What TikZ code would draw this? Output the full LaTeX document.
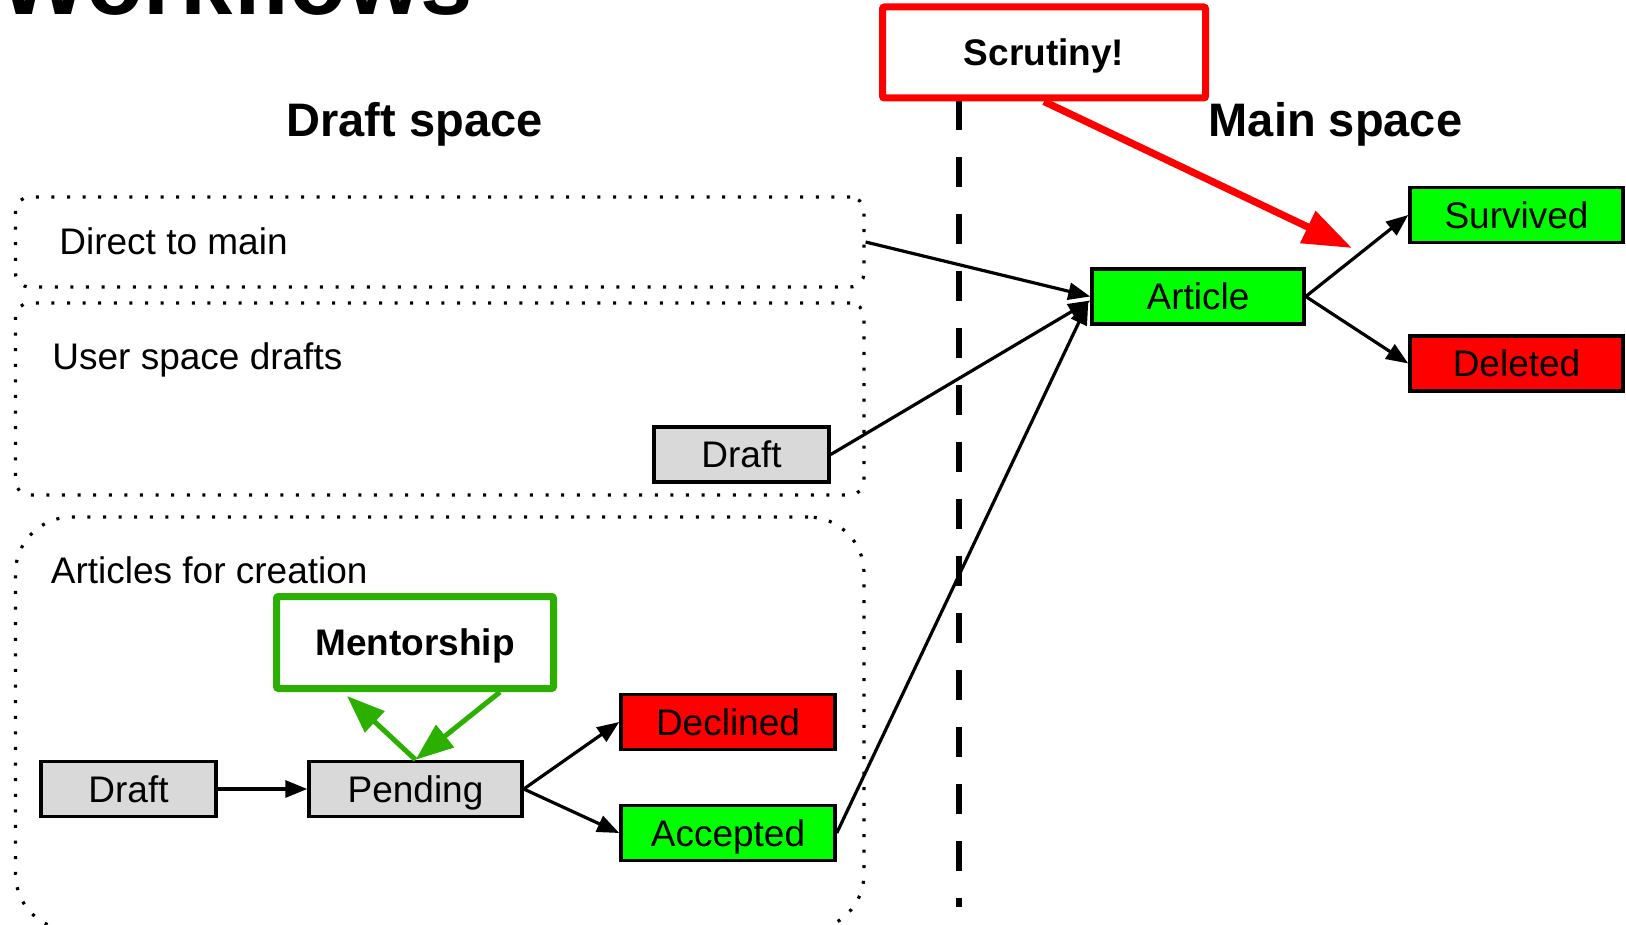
\documentclass[tikz,border=0pt]{standalone}
\usepackage{fontspec}
\setmainfont{Liberation Sans}
\usetikzlibrary{arrows.meta}
\definecolor{okgreen}{HTML}{00FF00}
\definecolor{badred}{HTML}{FF0000}
\definecolor{boxgray}{HTML}{D9D9D9}
\definecolor{mentorgreen}{HTML}{2BB000}
\newcommand\lblfont{\fontsize{18.5}{22}\selectfont}
\newcommand\headfont{\fontsize{23.5}{28}\selectfont\bfseries}
\newcommand\titlefont{\fontsize{47}{56}\selectfont\bfseries}
\tikzset{
  box/.style={draw, line width=1.75pt, inner sep=0pt, minimum height=27.5pt,
    text height=13.25pt, text depth=0pt, font=\lblfont},
  graybox/.style={box, fill=boxgray},
  greenbox/.style={box, fill=okgreen},
  redbox/.style={box, fill=badred},
  callout/.style={draw, line width=3.5pt, fill=white, inner sep=0pt, rounded corners=1pt,
    text height=13.25pt, text depth=0pt, font=\lblfont\bfseries},
  region/.style={draw, line width=1.6pt, dash pattern=on 1.5pt off 6.3pt,
    rounded corners=7pt, minimum width=424.25pt, inner sep=0pt},
  regionlabel/.style={anchor=base west, inner sep=0pt, font=\lblfont},
  heading/.style={anchor=base, inner sep=0pt, font=\headfont},
  flow/.style={line width=1.6pt, -{Triangle[length=11pt,width=8.5pt]}},
  mentorflow/.style={draw=mentorgreen, line width=2.5pt, -{Triangle[length=19pt,width=14pt]}, color=mentorgreen},
  scrutflow/.style={draw=badred, line width=3.6pt, -{Triangle[length=24.5pt,width=17pt]}, color=badred},
  separator/.style={line width=3pt, dash pattern=on 15pt off 13.5pt}
}
\begin{document}
\begin{tikzpicture}[x=0.5pt,y=-0.5pt]
\useasboundingbox (0,0) rectangle (1626,925);

% title
\node (title) [anchor=base east, inner sep=0pt, font=\titlefont] at (473,15) {Workflows};

% headings
\node (drafthead) [heading] at (414.6,137) {Draft space};
\node (mainhead) [heading] at (1335.5,137) {Main space};

% separator
\draw[separator] (959,100) -- (959,907);

% regions
\node (direct) [region, minimum height=45pt] at (439.75,242) {};
\node (userspace) [region, minimum height=96pt] at (439.75,399) {};
\node (afc) [region, minimum height=206.5pt, rounded corners=28pt] at (439.75,723.5) {};

\node (directlbl) [regionlabel] at (59,255) {Direct to main};
\node (userlbl) [regionlabel] at (52,369) {User space drafts};
\node (afclbl) [regionlabel] at (50.5,583) {Articles for creation};

% boxes
\node (userdraft) [graybox, minimum width=87.5pt] at (741.5,454.5) {Draft};
\node (afcdraft) [graybox, minimum width=87.5pt] at (128.5,789) {Draft};
\node (pending) [graybox, minimum width=106.5pt] at (415.5,789) {Pending};
\node (declined) [redbox, minimum width=107pt] at (728,722) {Declined};
\node (accepted) [greenbox, minimum width=107pt] at (728,833) {Accepted};
\node (article) [greenbox, minimum width=106pt] at (1198,296.5) {Article};
\node (survived) [greenbox, minimum width=106.5pt] at (1516.5,215) {Survived};
\node (deleted) [redbox, minimum width=106.5pt] at (1516.5,363.5) {Deleted};

% callouts
\node (scrutiny) [callout, draw=badred, minimum width=161.5pt, minimum height=45.5pt] at (1044,52.5) {Scrutiny!};
\node (mentorship) [callout, draw=mentorgreen, minimum width=138.5pt, minimum height=46pt] at (415,642.5) {Mentorship};

% connectors
\draw[flow] (direct.east) -- (article.west);
\draw[flow] (userdraft.east) -- ([yshift=-2pt]article.west);
\draw[flow] (accepted.east) -- ([xshift=-1pt,yshift=-3pt]article.west);
\draw[flow] (article.east) -- (survived.west);
\draw[flow] (article.east) -- (deleted.west);
\draw[flow] (afcdraft.east) -- (pending.west);
\draw[flow] (pending.east) -- (declined.west);
\draw[flow] (pending.east) -- (accepted.west);

\draw[mentorflow] (pending.north) -- ([xshift=-34pt,yshift=-2pt]mentorship.south);
\draw[mentorflow] ([xshift=42.5pt]mentorship.south) -- (pending.north);

\coordinate (scrutinytip) at (1352,248);
\draw[scrutflow] (scrutiny.south) -- (scrutinytip);
\end{tikzpicture}
\end{document}
